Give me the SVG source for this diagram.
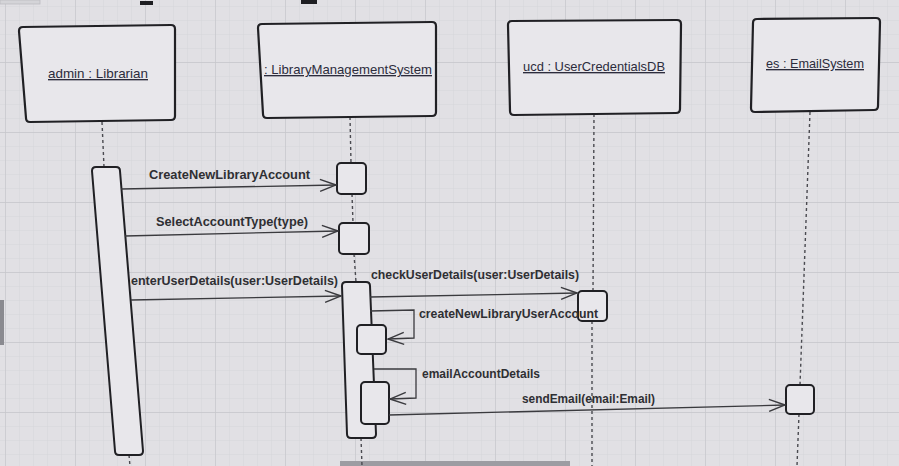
<svg xmlns="http://www.w3.org/2000/svg" width="899" height="466" viewBox="0 0 899 466">
  <defs>
    <pattern id="minor" width="14" height="14" patternUnits="userSpaceOnUse" x="5" y="6">
      <path d="M14,0 L0,0 0,14" fill="none" stroke="#d5d5d9" stroke-width="1"/>
    </pattern>
    <pattern id="major" width="70" height="70" patternUnits="userSpaceOnUse" x="5" y="62">
      <path d="M70,0 L0,0 0,70" fill="none" stroke="#c6c6cb" stroke-width="1.3"/>
    </pattern>
    <marker id="open" viewBox="0 0 18 14" refX="17" refY="7" markerWidth="18" markerHeight="14" markerUnits="userSpaceOnUse" orient="auto">
      <path d="M1,1 L17,7 L1,13" fill="none" stroke="#3a3a3e" stroke-width="1.4"/>
    </marker>
  </defs>
  <style>
    .head { fill: #e8e7eb; stroke: #202024; stroke-width: 2.2; }
    .act { fill: #e8e7eb; stroke: #202024; stroke-width: 2; }
    .life { fill: none; stroke: #4a4a50; stroke-width: 1.4; stroke-dasharray: 3 3; }
    .msg { fill: none; stroke: #3a3a3e; stroke-width: 1.3; marker-end: url(#open); }
    .ltxt { font-family: "Liberation Sans", Arial, sans-serif; font-size: 13.5px; fill: #2c2c3c; text-decoration: underline; }
    .mtxt { font-family: "Liberation Sans", Arial, sans-serif; font-size: 12px; font-weight: bold; fill: #2f2f33; }
  </style>

  <!-- background -->
  <rect x="0" y="0" width="899" height="466" fill="#e1e0e4"/>
  <rect x="0" y="0" width="899" height="466" fill="url(#minor)"/>
  <rect x="0" y="0" width="899" height="466" fill="url(#major)"/>
  <!-- photo edge marks -->
  <rect x="0" y="0" width="40" height="4" fill="#d4d4d8" stroke="#bbbbc0" stroke-width="0.8"/>
  <rect x="140" y="1" width="13" height="4" fill="#1e1e22"/>
  <rect x="301" y="0" width="16" height="4" fill="#1e1e22"/>
  <rect x="0" y="300" width="4" height="45" fill="#8a8a90"/>
  <rect x="340" y="461" width="230" height="5" fill="#9c9ca2"/>

  <!-- lifelines -->
  <g id="lifelines">
    <path class="life" d="M102,122 L104,167"/>
    <path class="life" d="M129,455 L130,466"/>
    <path class="life" d="M350,117 L351,163"/>
    <path class="life" d="M352,194 L353,223"/>
    <path class="life" d="M354,254 L356,282"/>
    <path class="life" d="M361,438 L362,466"/>
    <path class="life" d="M594,114 L593,291"/>
    <path class="life" d="M592,321 L592,466"/>
    <path class="life" d="M810,112 L800,385"/>
    <path class="life" d="M799,414 L797,466"/>
  </g>

  <!-- lifeline heads -->
  <g id="admin">
    <path class="head" d="M23,27 L171,25 Q175,25 175,29 L175,116 Q175,120 171,120 L30,122 Q26,122 26,118 L19,31 Q19,27 23,27 Z"/>
    <text class="ltxt" x="48" y="78" textLength="100" lengthAdjust="spacingAndGlyphs">admin : Librarian</text>
    <path class="act" d="M96,167 L116,167 Q120,167 120,171 L143,451 Q143,455 139,455 L119,455 Q115,455 115,451 L92,171 Q92,167 96,167 Z"/>
  </g>

  <g id="lms">
    <path class="head" d="M262,24 L432,22 Q436,22 436,26 L436,112 Q436,116 432,116 L267,118 Q263,118 263,114 L258,28 Q258,24 262,24 Z"/>
    <text class="ltxt" x="264" y="74" textLength="168" lengthAdjust="spacingAndGlyphs">: LibraryManagementSystem</text>
    <rect class="act" x="337" y="163" width="29" height="31" rx="4"/>
    <rect class="act" x="339" y="223" width="30" height="31" rx="4"/>
    <path class="act" d="M346,282 L366,282 Q370,282 370,286 L376,434 Q376,438 372,438 L351,438 Q347,438 347,434 L342,286 Q342,282 346,282 Z"/>
    <rect class="act" x="357" y="325" width="29" height="29" rx="4"/>
    <rect class="act" x="361" y="382" width="28" height="42" rx="4"/>
  </g>

  <g id="ucd">
    <path class="head" d="M512,21 L677,20 Q681,20 681,24 L680,109 Q680,113 676,113 L514,115 Q510,115 510,111 L508,25 Q508,21 512,21 Z"/>
    <text class="ltxt" x="523" y="71" textLength="142" lengthAdjust="spacingAndGlyphs">ucd : UserCredentialsDB</text>
    <rect class="act" x="578" y="291" width="29" height="30" rx="4"/>
  </g>

  <g id="es">
    <path class="head" d="M757,19 L876,18 Q880,18 880,22 L878,106 Q878,110 874,110 L755,112 Q751,112 751,108 L753,23 Q753,19 757,19 Z"/>
    <text class="ltxt" x="766" y="68" textLength="98" lengthAdjust="spacingAndGlyphs">es : EmailSystem</text>
    <rect class="act" x="786" y="385" width="28" height="29" rx="4"/>
  </g>

  <!-- messages -->
  <g id="connectors">
    <path class="msg" d="M121,189 L336,185"/>
    <path class="msg" d="M125,236 L338,231"/>
    <path class="msg" d="M131,300 L341,296"/>
    <path class="msg" d="M370,297 L577,293"/>
    <path class="msg" d="M370,311 L414,310 L414,338 L388,339"/>
    <path class="msg" d="M374,369 L416,369 L416,398 L390,399"/>
    <path class="msg" d="M389,415 L785,405"/>
  </g>

  <g id="labels">
    <text class="mtxt" x="149" y="179" textLength="161" lengthAdjust="spacingAndGlyphs">CreateNewLibraryAccount</text>
    <text class="mtxt" x="156" y="226" textLength="152" lengthAdjust="spacingAndGlyphs">SelectAccountType(type)</text>
    <text class="mtxt" x="131" y="285" textLength="207" lengthAdjust="spacingAndGlyphs">enterUserDetails(user:UserDetails)</text>
    <text class="mtxt" x="371" y="279" textLength="208" lengthAdjust="spacingAndGlyphs">checkUserDetails(user:UserDetails)</text>
    <text class="mtxt" x="419" y="318" textLength="179" lengthAdjust="spacingAndGlyphs">createNewLibraryUserAccount</text>
    <text class="mtxt" x="422" y="378" textLength="118" lengthAdjust="spacingAndGlyphs">emailAccountDetails</text>
    <text class="mtxt" x="522" y="403" textLength="133" lengthAdjust="spacingAndGlyphs">sendEmail(email:Email)</text>
  </g>
</svg>
